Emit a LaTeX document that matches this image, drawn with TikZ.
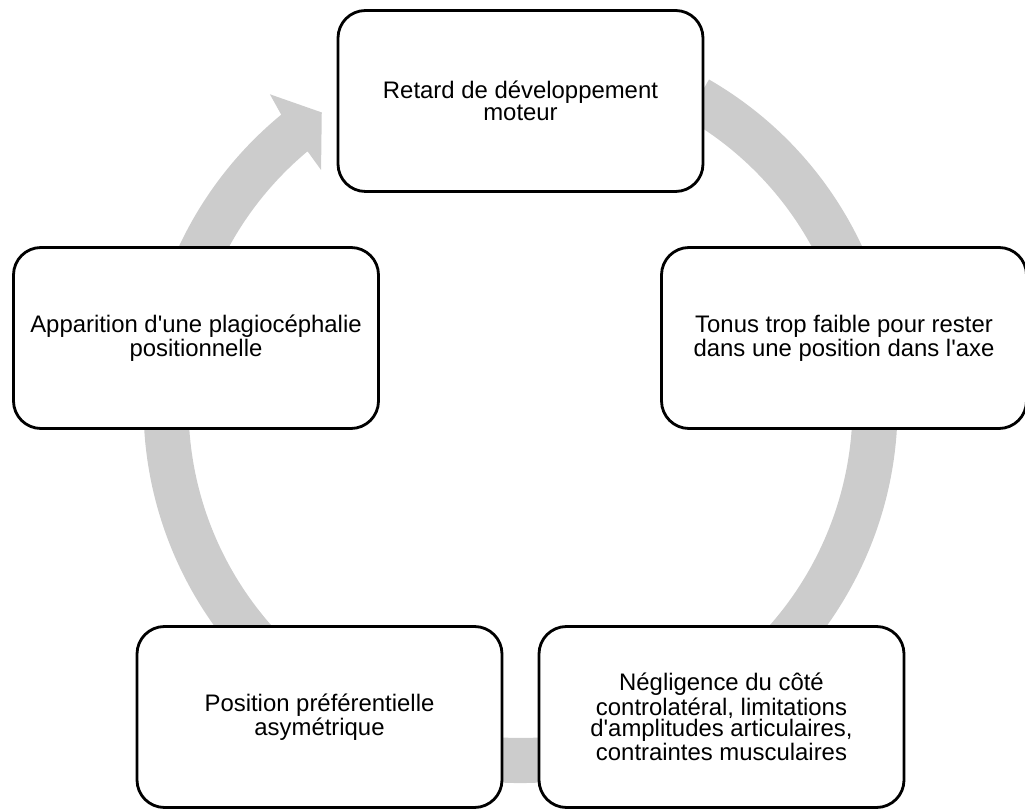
\documentclass[tikz,border=0pt]{standalone}
\usepackage{fontspec}
\setmainfont{Liberation Sans}[Ligatures=TeXOff]
\usepackage{tikz}
\usepackage{xcolor}
\usetikzlibrary{calc}
\definecolor{ringgray}{RGB}{204, 204, 204}
\definecolor{boxline}{RGB}{0, 0, 0}

\begin{document}
\begin{tikzpicture}[
    font=\fontsize{13.6}{12.3}\selectfont,
    box/.style={rectangle, draw=boxline, fill=white, line width=1.6pt, rounded corners=0.55cm, minimum width=7.3cm, minimum height=3.62cm, align=center, inner sep=2pt},
    ring/.style={fill=ringgray, draw=none}
]
    \useasboundingbox (0,0) rectangle (20.5,16.2);
    \coordinate (ctr) at (10.41,8.08);

    % grey cycle arrow, behind the boxes
    \path [ring] ($(ctr)+(60:7.54)$) arc[start angle=60, end angle=-230.6, radius=7.54]
        -- ($(ctr)+(128.8:8.0)$) -- ($(ctr)+(124.1:7.09)$) -- ($(ctr)+(130.2:6.18)$)
        -- ($(ctr)+(129.9:6.64)$) arc[start angle=-230.1, end angle=60, radius=6.64] -- cycle;

    \node [box] (retard) at (10.41,14.18) {Retard de développement\\moteur};
    \node [box] (tonus) at (16.88,9.44) {Tonus trop faible pour rester\\dans une position dans l'axe};
    \node [box] (negligence) at (14.43,1.86) {Négligence du côté\\controlatéral, limitations\\d'amplitudes articulaires,\\contraintes musculaires};
    \node [box] (position) at (6.39,1.86) {Position préférentielle\\asymétrique};
    \node [box] (plagio) at (3.92,9.44) {Apparition d'une plagiocéphalie\\positionnelle};

\end{tikzpicture}
\end{document}
